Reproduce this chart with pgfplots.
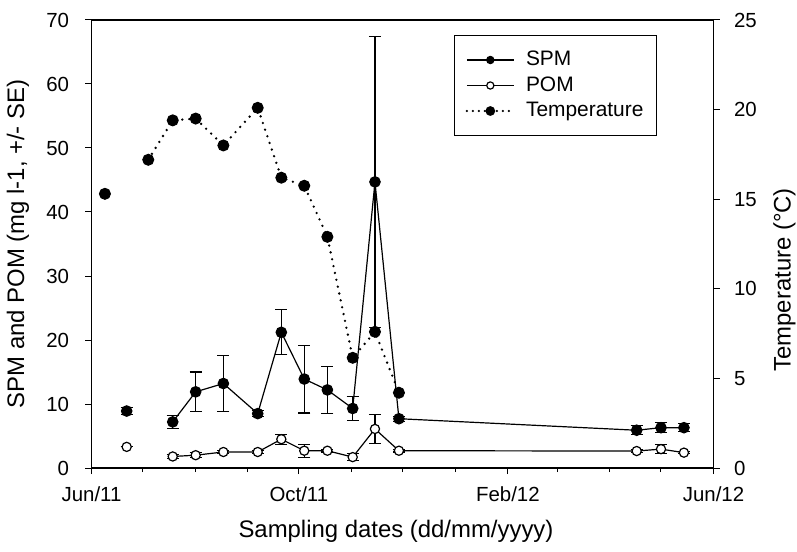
\documentclass[border=0pt]{standalone}
\usepackage{pgfplots}
\pgfplotsset{compat=1.18}
\usepackage{fontspec}
\setmainfont{Liberation Sans}
\pgfplotstableread{
day spm spme
20.7 8.9 0.5
33.0 nan 0
47.8 7.2 1.0
61.3 11.9 3.1
77.6 13.2 4.4
97.8 8.5 0.5
111.7 21.2 3.5
125.2 13.9 5.3
138.8 12.2 3.7
153.7 9.3 1.9
166.8 44.7 22.7
180.9 7.7 0.4
320.8 5.9 0.7
335.1 6.3 0.8
348.6 6.3 0.6
}\spmtable
\pgfplotstableread{
day pom pome
20.7 3.3 0.0
33.0 nan 0
47.8 1.8 0.3
61.3 2.0 0.4
77.6 2.5 0.3
97.8 2.5 0.2
111.7 4.5 0.8
125.2 2.7 1.0
138.8 2.7 0.2
153.7 1.7 0.5
166.8 6.1 2.3
180.9 2.7 0.2
320.8 2.65 0.2
335.1 2.95 0.7
348.6 2.4 0.2
}\pomtable
\pgfplotstableread{
day temp
7.9 15.3
20.0 nan
33.4 17.2
47.8 19.4
61.3 19.5
77.6 18.0
97.8 20.1
111.7 16.2
125.2 15.75
138.8 12.9
153.7 6.15
166.8 7.6
180.9 4.2
}\temptable
\pgfplotsset{
 myerr/.style={
  error bars/y dir=both, error bars/y explicit,
  error bars/error bar style={line width=1.1bp, black, solid},
  error bars/error mark options={line width=1.1bp, black, mark size=6bp, rotate=90, solid},
 }
}
\begin{document}
\begin{tikzpicture}
\path[use as bounding box] (-91.5bp,-84bp) rectangle (705.5bp,468bp);
\begin{axis}[
 scale only axis, width=622bp, height=448bp,
 xmin=0, xmax=366, ymin=0, ymax=70,
 axis line style={line width=1.1bp},
 xtick={0,122,245,366}, xticklabels={Jun/11,Oct/11,Feb/12,Jun/12},
 minor xtick={30,61,92,153,183,214,274,305,335},
 ytick={0,10,...,70},
 tick align=outside, xtick pos=bottom, ytick pos=left,
 major tick length=6bp, minor tick length=4bp,
 every tick/.style={line width=1bp, black},
 /pgf/number format/assume math mode=true,
 tick label style={font=\fontsize{20.5}{24}\selectfont},
 xticklabel style={yshift=-9bp},
 yticklabel style={xshift=-13bp},
 every axis y label/.style={at={(axis description cs:-0.1182,0.5)}, rotate=90, anchor=center},
 every axis x label/.style={at={(axis description cs:0.4895,-0.156)}, anchor=base},
 label style={font=\fontsize{24}{28}\selectfont},
 ylabel={SPM and POM (mg l-1, +/- SE)},
 xlabel={Sampling dates (dd/mm/yyyy)},
 unbounded coords=jump,
 legend style={at={(axis description cs:0.583,0.9665)}, anchor=north west, draw=black, line width=1bp,
   font=\fontsize{21}{25}\selectfont, inner xsep=11bp, inner ysep=12bp, row sep=0.5bp,
   nodes={inner sep=2bp, text height=16bp, text depth=5bp}},
 legend cell align=left,
 legend image code/.code={\draw[mark repeat=2,mark phase=2,mark size=3.6bp] plot coordinates {(0bp,0bp)(23.5bp,0bp)(47bp,0bp)};
   \path (56bp,0bp);},
]
\addplot[black, line width=1.2bp, mark=*, mark size=5.2bp, mark options={fill=black}, myerr]
  table[x=day, y=spm, y error=spme] {\spmtable};
\addlegendentry{SPM}
\addplot[black, line width=1.2bp, mark=*, mark size=4.6bp, mark options={fill=white, line width=1.2bp}, myerr]
  table[x=day, y=pom, y error=pome] {\pomtable};
\addlegendentry{POM}
\addlegendimage{black, line width=2.4bp, dash pattern=on 0pt off 6bp, line cap=round, mark=*, mark options={solid, fill=black}}
\addlegendentry{Temperature}
\end{axis}
\begin{axis}[
 scale only axis, width=622bp, height=448bp,
 xmin=0, xmax=366, ymin=0, ymax=25,
 axis x line=none, axis y line*=right,
 axis line style={line width=1.1bp},
 ytick={0,5,...,25},
 tick align=outside, ytick pos=right,
 major tick length=6bp,
 every tick/.style={line width=1bp, black},
 /pgf/number format/assume math mode=true,
 tick label style={font=\fontsize{20.5}{24}\selectfont},
 yticklabel style={xshift=11bp},
 every axis y label/.style={at={(axis description cs:1.114,0.42)}, rotate=90, anchor=center},
 label style={font=\fontsize{24}{28}\selectfont},
 ylabel={Temperature (°C)},
 unbounded coords=jump,
]
\addplot[black, line width=2.6bp, dash pattern=on 0pt off 7bp, line cap=round, mark=*, mark size=5.5bp, mark options={solid, fill=black, line width=1bp}]
  table[x=day, y=temp] {\temptable};
\end{axis}
\end{tikzpicture}
\end{document}
